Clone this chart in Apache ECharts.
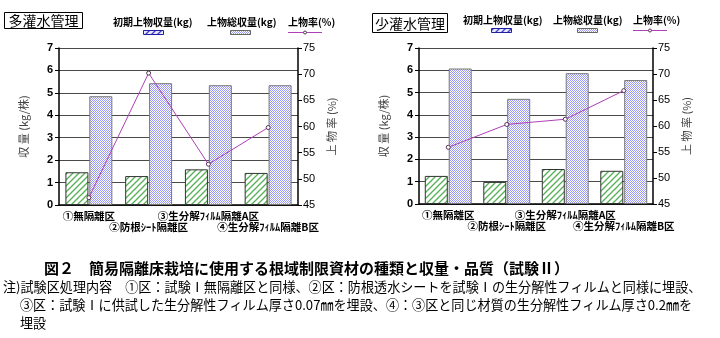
<!DOCTYPE html>
<html>
<head>
<meta charset="utf-8">
<script src="https://cdn.jsdelivr.net/npm/echarts@6/dist/echarts.min.js"></script>
<style>
  html, body { margin: 0; padding: 0; background: #fff; }
  #chart { width: 720px; height: 338px; }
</style>
</head>
<body>
<div id="chart"></div>
<script>
// Treatments (x-axis categories)
const categories = ['①無隔離区', '②防根ｼｰﾄ隔離区', '③生分解ﾌｨﾙﾑ隔離A区', '④生分解ﾌｨﾙﾑ隔離B区'];

// 多灌水管理
const wetEarly = [1.46, 1.29, 1.59, 1.43];   // 初期上物収量 (kg/株)
const wetTotal = [4.85, 5.43, 5.34, 5.34];   // 上物総収量 (kg/株)
const wetRate  = [46.4, 70.2, 52.8, 59.8];   // 上物率 (%)

// 少灌水管理
const dryEarly = [1.26, 0.99, 1.57, 1.49];
const dryTotal = [6.08, 4.72, 5.87, 5.56];
const dryRate  = [55.9, 60.3, 61.3, 66.8];

const seriesNames = ['初期上物収量(kg)', '上物総収量(kg)', '上物率(%)'];
const panelTitles = ['多灌水管理', '少灌水管理'];
const yieldAxis = { min: 0, max: 7, interval: 1, name: '収 量 (kg/株)' };
const rateAxis  = { min: 45, max: 75, interval: 5, name: '上 物 率 (%)' };

const captionTitle = '図２　簡易隔離床栽培に使用する根域制限資材の種類と収量・品質（試験Ⅱ）';
const captionNotes = [
  '注)試験区処理内容　①区：試験Ⅰ無隔離区と同様、②区：防根透水シートを試験Ⅰの生分解性フィルムと同様に埋設、',
  '③区：試験Ⅰに供試した生分解性フィルム厚さ0.07㎜を埋設、④：③区と同じ材質の生分解性フィルム厚さ0.2㎜を',
  '埋設'
];

// Fill patterns
function hatch(color, bg) {
  const c = document.createElement('canvas');
  c.width = 6; c.height = 6;
  const g = c.getContext('2d');
  g.fillStyle = bg; g.fillRect(0, 0, 6, 6);
  g.strokeStyle = color; g.lineWidth = 1.3;
  g.beginPath();
  g.moveTo(-1, 7); g.lineTo(7, -1);
  g.moveTo(-1, 1); g.lineTo(1, -1);
  g.moveTo(5, 7); g.lineTo(7, 5);
  g.stroke();
  return { image: c, repeat: 'repeat' };
}
function checker(color) {
  const c = document.createElement('canvas');
  c.width = 2; c.height = 2;
  const g = c.getContext('2d');
  g.fillStyle = '#ffffff'; g.fillRect(0, 0, 2, 2);
  g.fillStyle = color;
  g.fillRect(0, 0, 1, 1); g.fillRect(1, 1, 1, 1);
  return { image: c, repeat: 'repeat' };
}
const greenHatch = hatch('#55b055', '#ffffff');
const blueHatch = hatch('#4040d0', '#e8e8ff');
const blueDots = checker('#9a9af4');
const lineColor = '#b040b8';

const jp = '"Noto Sans CJK JP", sans-serif';
const num = '"Liberation Sans", Arial, sans-serif';

const grids = [
  { left: 59, top: 48, width: 239, height: 157 },
  { left: 419, top: 48, width: 234, height: 156 }
];

const xAxes = [], yAxes = [], series = [];
const panels = [[wetEarly, wetTotal, wetRate], [dryEarly, dryTotal, dryRate]];

panels.forEach((p, gi) => {
  xAxes.push({
    type: 'category', gridIndex: gi, data: categories,
    axisLine: { lineStyle: { color: '#000', width: 1.5 } },
    axisTick: { show: false },
    axisLabel: {
      interval: 0, margin: 6, fontSize: 10.5, fontWeight: 'bold', lineHeight: 11,
      fontFamily: jp, color: '#000',
      formatter: (v, i) => (i % 2 ? '\n' + v : v)
    }
  });
  yAxes.push({
    type: 'value', gridIndex: gi, position: 'left',
    min: yieldAxis.min, max: yieldAxis.max, interval: yieldAxis.interval,
    name: yieldAxis.name, nameLocation: 'middle', nameRotate: 90, nameGap: 30,
    nameTextStyle: { fontFamily: jp, fontSize: 11, color: '#444' },
    axisLine: { show: true, lineStyle: { color: '#000', width: 1.5 } },
    axisTick: { show: true, length: 4, lineStyle: { color: '#000' } },
    axisLabel: { margin: 6, fontFamily: num, fontWeight: 'bold', fontSize: 11, color: '#000' },
    splitLine: { show: true, lineStyle: { color: '#4a4a4a', width: 1 } }
  });
  yAxes.push({
    type: 'value', gridIndex: gi, position: 'right',
    min: rateAxis.min, max: rateAxis.max, interval: rateAxis.interval,
    name: rateAxis.name, nameLocation: 'middle', nameRotate: 90, nameGap: 28,
    nameTextStyle: { fontFamily: jp, fontSize: 11, color: '#444' },
    axisLine: { show: true, lineStyle: { color: '#000', width: 1.5 } },
    axisTick: { show: true, length: 4, lineStyle: { color: '#000' } },
    axisLabel: { margin: 5, fontFamily: num, fontSize: 11, color: '#000' },
    splitLine: { show: false }
  });
  series.push({
    name: seriesNames[0], type: 'bar', xAxisIndex: gi, yAxisIndex: gi * 2,
    data: p[0], barWidth: 23, barGap: '4%',
    itemStyle: { color: greenHatch, borderColor: '#333', borderWidth: 1 }
  });
  series.push({
    name: seriesNames[1], type: 'bar', xAxisIndex: gi, yAxisIndex: gi * 2,
    data: p[1], barWidth: 23, barGap: '4%',
    itemStyle: { color: blueDots, borderColor: '#777', borderWidth: 1 }
  });
  series.push({
    name: seriesNames[2], type: 'line', xAxisIndex: gi, yAxisIndex: gi * 2 + 1,
    data: p[2], symbol: 'circle', symbolSize: 4, z: 5,
    lineStyle: { color: lineColor, width: 1 },
    itemStyle: { color: '#fff', borderColor: '#553355', borderWidth: 1 }
  });
});

// Panel headings and legends
const legendPos = [
  { box: [4, 12, 78, 16], tx: [113, 207, 288], ty: 22, sw: [143, 230, 288], sy: 30 },
  { box: [372, 13, 75, 19], tx: [463, 553, 633], ty: 20, sw: [491, 577, 633], sy: 28 }
];
const graphics = [];
legendPos.forEach((L, i) => {
  graphics.push({
    type: 'rect', shape: { x: L.box[0] + 0.5, y: L.box[1] + 0.5, width: L.box[2], height: L.box[3] },
    style: { fill: '#fff', stroke: '#000', lineWidth: 1 }
  });
  graphics.push({
    type: 'text', x: L.box[0] + L.box[2] / 2 + 0.5, y: L.box[1] + L.box[3] / 2 + 1,
    style: { text: panelTitles[i], font: '14px ' + jp, fill: '#000', align: 'center', verticalAlign: 'middle' }
  });
  seriesNames.forEach((n, k) => {
    graphics.push({
      type: 'text', x: L.tx[k], y: L.ty,
      style: { text: n, font: 'bold 10px ' + jp, fill: '#000', align: 'left', verticalAlign: 'middle' }
    });
  });
  graphics.push({
    type: 'rect', shape: { x: L.sw[0] + 0.5, y: L.sy + 0.5, width: 20, height: 4 },
    style: { fill: blueHatch, stroke: '#2020a0', lineWidth: 1 }
  });
  graphics.push({
    type: 'rect', shape: { x: L.sw[1] + 0.5, y: L.sy + 0.5, width: 20, height: 4 },
    style: { fill: blueDots, stroke: '#666', lineWidth: 1 }
  });
  graphics.push({
    type: 'line', shape: { x1: L.sw[2], y1: L.sy + 2.5, x2: L.sw[2] + 34, y2: L.sy + 2.5 },
    style: { stroke: lineColor, lineWidth: 1 }
  });
  graphics.push({
    type: 'circle', shape: { cx: L.sw[2] + 17, cy: L.sy + 2.5, r: 1.5 },
    style: { fill: '#fff', stroke: '#553355', lineWidth: 1 }
  });
});

// Figure caption
graphics.push({
  type: 'text', x: 44, y: 268,
  style: { text: captionTitle, font: 'bold 15px ' + jp, fill: '#000', verticalAlign: 'middle' }
});
const noteX = [3, 20, 20], noteY = [287, 305, 323];
captionNotes.forEach((t, i) => {
  graphics.push({
    type: 'text', x: noteX[i], y: noteY[i],
    style: { text: t, font: '13.1px ' + jp, fill: '#000', verticalAlign: 'middle' }
  });
});

const chart = echarts.init(document.getElementById('chart'), null, { renderer: 'canvas' });
chart.setOption({
  animation: false,
  backgroundColor: '#fff',
  grid: grids,
  xAxis: xAxes,
  yAxis: yAxes,
  series: series,
  graphic: graphics
});
</script>
</body>
</html>
